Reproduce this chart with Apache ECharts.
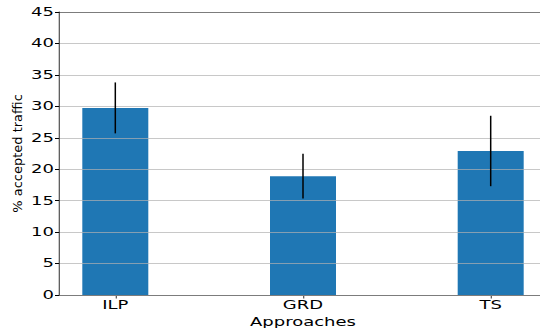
<!DOCTYPE html>
<html>
<head>
<meta charset="utf-8">
<script src="https://cdn.jsdelivr.net/npm/echarts@6/dist/echarts.min.js"></script>
<style>
  html, body { margin: 0; padding: 0; background: #fff; overflow: hidden; }
  /* The figure is drawn narrow and widened horizontally, giving the broad lettering. */
  #chart { width: 360px; height: 328px; transform: scaleX(1.5); transform-origin: 0 0; }
</style>
</head>
<body>
<div id="chart"></div>
<script>
// Share of accepted traffic per approach (mean with spread)
const categories = ['ILP', 'GRD', 'TS'];
const meanAccepted = [29.75, 18.9, 22.9];
const spreadAccepted = [4.05, 3.55, 5.6];
const yTicks = [0, 5, 10, 15, 20, 25, 30, 35, 40, 45];

const SX = 1.5; // horizontal widening applied to the chart box
const positions = categories.map((_, i) => i);
const barData = positions.map((p, i) => [p, meanAccepted[i]]);
const errData = positions.map((p, i) => [p, meanAccepted[i] - spreadAccepted[i], meanAccepted[i] + spreadAccepted[i]]);

const font = 'DejaVu Sans';
const chart = echarts.init(document.getElementById('chart'), null, { renderer: 'svg', width: 360, height: 328 });

chart.setOption({
  animation: false,
  backgroundColor: '#fff',
  grid: { left: 59 / SX, right: -7 / SX, top: 12, bottom: 33, outerBoundsMode: 'none' },
  xAxis: [{
    type: 'value',
    min: -0.3,
    max: 2.3,
    name: 'Approaches',
    nameLocation: 'middle',
    nameGap: 17,
    nameTextStyle: { fontFamily: font, fontSize: 12, color: '#000' },
    axisLine: { onZero: false, lineStyle: { color: '#000', width: 1 } },
    axisTick: { show: true, customValues: positions, length: 3.5, lineStyle: { color: '#000', width: 1 / SX } },
    axisLabel: {
      customValues: positions,
      formatter: v => categories[Math.round(v)],
      fontFamily: font, fontSize: 12, color: '#000', margin: 4
    },
    splitLine: { show: false }
  }, {
    type: 'value',
    position: 'top',
    min: -0.3,
    max: 2.3,
    axisLine: { show: true, onZero: false, lineStyle: { color: '#000', width: 1 } },
    axisTick: { show: false },
    axisLabel: { show: false },
    splitLine: { show: false }
  }],
  yAxis: {
    type: 'value',
    min: 0,
    max: 45,
    interval: 5,
    z: 5,
    axisLine: { show: true, onZero: false, lineStyle: { color: '#000', width: 1 / SX } },
    axisTick: { show: true, length: 4 / SX, lineStyle: { color: '#000' } },
    axisLabel: {
      formatter: v => (yTicks.includes(v) ? String(v) : ''),
      fontFamily: font, fontSize: 12, color: '#000', margin: 5 / SX
    },
    splitLine: { show: true, lineStyle: { color: 'rgba(176,176,176,0.7)', width: 1 } }
  },
  graphic: [{
    // y-axis title, kept at its natural proportions
    type: 'text',
    x: 17 / SX,
    y: 153.5,
    rotation: Math.PI / 2,
    scaleY: 1 / SX,
    style: {
      text: '% accepted traffic',
      font: '13px "DejaVu Sans"',
      fill: '#000',
      align: 'center',
      verticalAlign: 'middle'
    }
  }],
  series: [{
    type: 'bar',
    data: barData,
    barWidth: 66 / SX,
    itemStyle: { color: '#1f77b4' },
    z: 2
  }, {
    type: 'custom',
    data: errData,
    z: 10,
    renderItem: (params, api) => {
      const top = api.coord([api.value(0), api.value(2)]);
      const bottom = api.coord([api.value(0), api.value(1)]);
      return {
        type: 'line',
        shape: { x1: top[0], y1: top[1], x2: bottom[0], y2: bottom[1] },
        style: { stroke: '#000', lineWidth: 1 }
      };
    }
  }]
});
</script>
</body>
</html>
